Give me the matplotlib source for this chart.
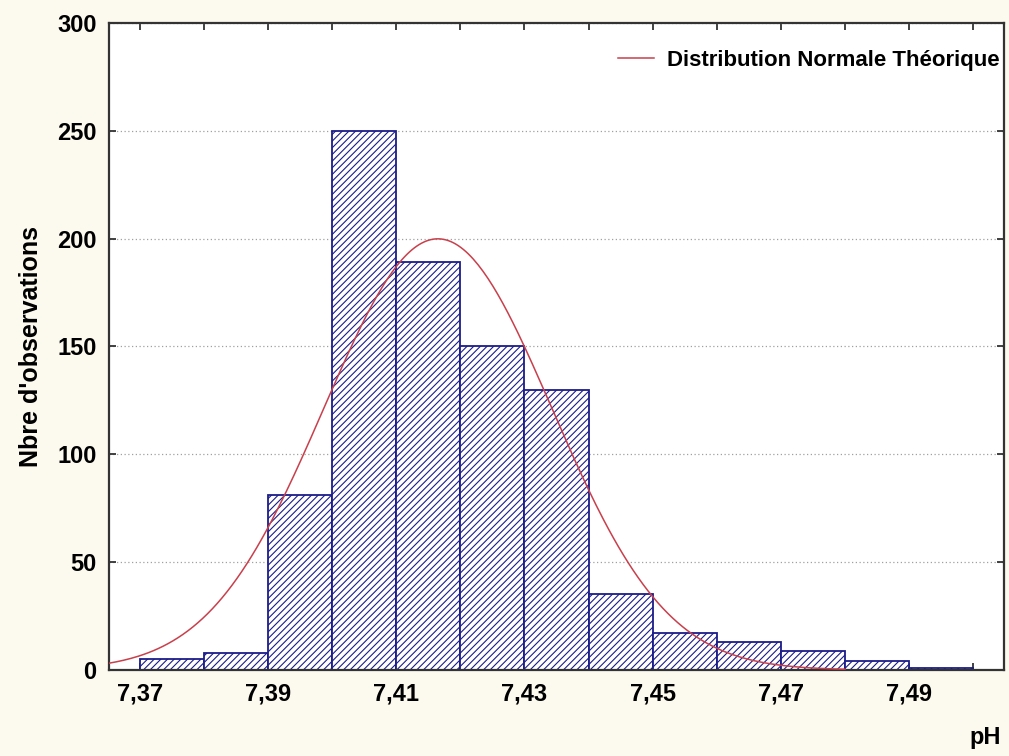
import numpy as np
import matplotlib
matplotlib.use("Agg")
import matplotlib.pyplot as plt

# pH histogram, bins of width 0.01 starting at 7.37
bin_edges = [7.37, 7.38, 7.39, 7.40, 7.41, 7.42, 7.43, 7.44, 7.45, 7.46,
             7.47, 7.48, 7.49, 7.50]
counts = [5, 8, 81, 250, 189, 150, 130, 35, 17, 13, 9, 4, 1]

# theoretical normal curve parameters
ph_mean = 7.4165
ph_sd = 0.0178
curve_end = 7.48

xtick_values = bin_edges
xtick_labels = ["7,37", "", "7,39", "", "7,41", "", "7,43", "", "7,45", "",
                "7,47", "", "7,49", ""]
ytick_values = [0, 50, 100, 150, 200, 250, 300]

BG = "#fcf9ee"
NAVY = "#1c1c8a"
RED = "#c8404c"

plt.rcParams["font.family"] = ["Liberation Sans", "DejaVu Sans"]
plt.rcParams["font.weight"] = "bold"
plt.rcParams["hatch.linewidth"] = 0.8

fig = plt.figure(figsize=(10.09, 7.56), dpi=100, facecolor=BG)
ax = fig.add_axes([0.108, 0.1138, 0.887, 0.8558])
ax.set_facecolor("white")

widths = np.diff(bin_edges)
ax.bar(bin_edges[:-1], counts, width=widths, align="edge",
       facecolor="white", edgecolor=NAVY, hatch="/////", linewidth=1.3, zorder=2)

n_total = sum(counts)
bw = widths[0]
xs = np.linspace(7.3652, curve_end, 300)
ys = n_total * bw / (ph_sd * np.sqrt(2 * np.pi)) * np.exp(-0.5 * ((xs - ph_mean) / ph_sd) ** 2)
ax.plot(xs, ys, color=RED, linewidth=1.1, zorder=3,
        label="Distribution Normale Théorique")

ax.set_xlim(7.3652, 7.5048)
ax.set_ylim(0, 300)
ax.set_xticks(xtick_values)
ax.set_xticklabels(xtick_labels)
ax.set_yticks(ytick_values)
ax.tick_params(direction="in", length=5, width=1.3, top=True, right=True,
               labelsize=17, pad=9, color="#333333")
for lab in ax.get_xticklabels() + ax.get_yticklabels():
    lab.set_fontweight("bold")

ax.yaxis.grid(True, linestyle=(0, (1, 2)), color="#a0a0a0", linewidth=0.9, zorder=1)
for sp in ax.spines.values():
    sp.set_color("#333333")
    sp.set_linewidth(1.6)

ax.set_ylabel("Nbre d'observations", fontsize=18, fontweight="bold", labelpad=10)
fig.text(0.976, 0.024, "pH", fontsize=17, fontweight="bold", ha="center", va="center")

leg = ax.legend(loc="upper right", bbox_to_anchor=(1.005, 0.972), frameon=False,
                borderaxespad=0, handlelength=1.6, handletextpad=0.6,
                prop={"size": 16, "weight": "bold"})

fig.savefig("out.png", dpi=100, facecolor=BG)
